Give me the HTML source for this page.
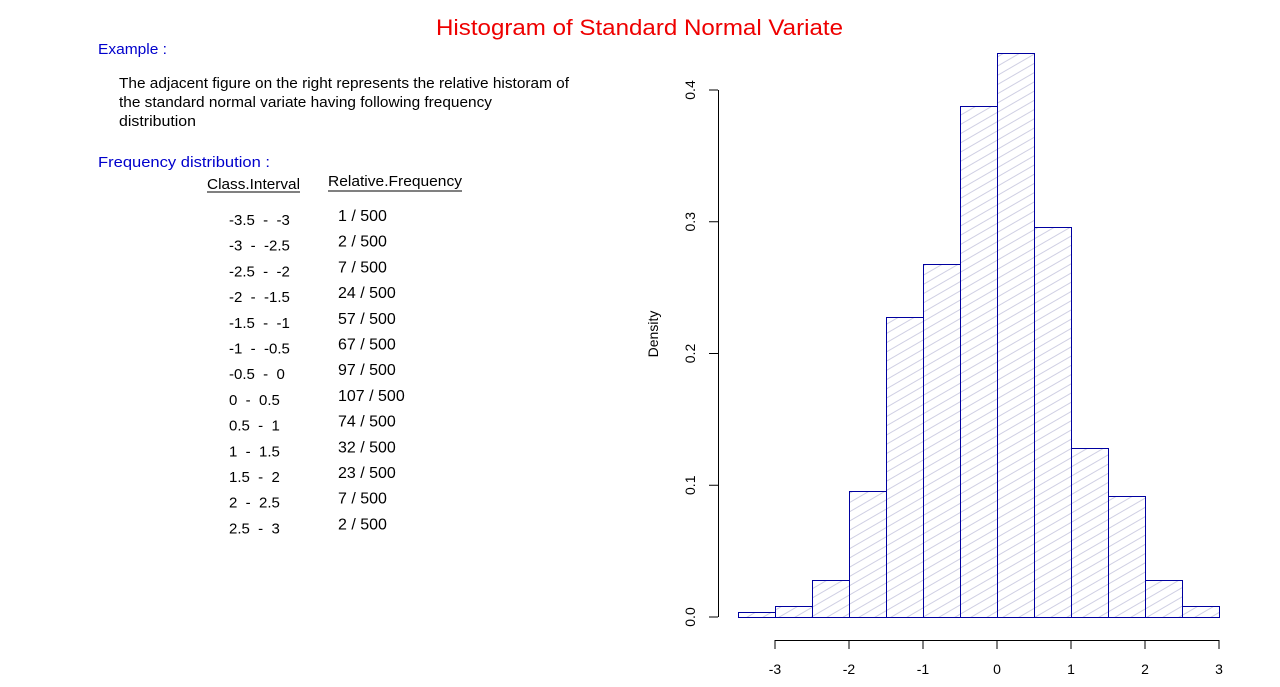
<!DOCTYPE html>
<html><head><meta charset="utf-8"><style>
body{margin:0;background:#fff;width:1280px;height:682px;overflow:hidden}
svg{font-family:"Liberation Sans",Arial,sans-serif}
#table text{white-space:pre}
</style></head><body>
<svg id="s" width="1280" height="682">
<defs>
<pattern id="hatch" patternUnits="userSpaceOnUse" width="14" height="8" patternTransform="rotate(-30)">
<line x1="0" y1="4" x2="14" y2="4" stroke="#cacae0" stroke-width="0.9"/>
</pattern>
</defs>
<text x="436" y="35" font-size="22" fill="#ee0000" textLength="407" lengthAdjust="spacingAndGlyphs">Histogram of Standard Normal Variate</text>
<text x="98" y="54" font-size="15" fill="#0000cc" textLength="69" lengthAdjust="spacingAndGlyphs">Example :</text>
<g font-size="15" fill="#000">
<text x="119" y="88" textLength="450" lengthAdjust="spacingAndGlyphs">The adjacent figure on the right represents the relative historam of</text>
<text x="119" y="107" textLength="373" lengthAdjust="spacingAndGlyphs">the standard normal variate having following frequency</text>
<text x="119" y="126" textLength="77" lengthAdjust="spacingAndGlyphs">distribution</text>
</g>
<text x="98" y="167" font-size="15" fill="#0000cc" textLength="172" lengthAdjust="spacingAndGlyphs">Frequency distribution :</text>
<text x="207" y="189" font-size="15" textLength="93" lengthAdjust="spacingAndGlyphs">Class.Interval</text>
<line x1="207" y1="192" x2="300" y2="192" stroke="#000"/>
<text x="328" y="186" font-size="15" textLength="134" lengthAdjust="spacingAndGlyphs">Relative.Frequency</text>
<line x1="328" y1="191" x2="462" y2="191" stroke="#000"/>
<g id="table"></g>
<g id="plot"></g>
<text transform="translate(658,334) rotate(-90)" text-anchor="middle" font-size="14">Density</text>
</svg>
<script>
const intervals=["-3.5  -  -3","-3  -  -2.5","-2.5  -  -2","-2  -  -1.5","-1.5  -  -1","-1  -  -0.5","-0.5  -  0","0  -  0.5","0.5  -  1","1  -  1.5","1.5  -  2","2  -  2.5","2.5  -  3"];
const breaks=[-3.5,-3,-2.5,-2,-1.5,-1,-0.5,0,0.5,1,1.5,2,2.5,3];
const counts=[1,2,7,24,57,67,97,107,74,32,23,7,2];
const total=500;
const xTicks=[-3,-2,-1,0,1,2,3];
const yTicks=[0,0.1,0.2,0.3,0.4];
const NS="http://www.w3.org/2000/svg";
const X=v=>997+v*74, Y=v=>617-v*1317.5;
function mk(t,a,p){const e=document.createElementNS(NS,t);for(const k in a)e.setAttribute(k,a[k]);p.appendChild(e);return e;}
const tb=document.getElementById('table'),pl=document.getElementById('plot');
intervals.forEach((s,i)=>{
 const t=mk('text',{x:229,y:225+i*25.7,'font-size':15},tb);t.textContent=s;
 
 
 const f=mk('text',{x:338,y:221+i*25.7,'font-size':16},tb);f.textContent=counts[i]+' / '+total;
 
 
});
const w=breaks[1]-breaks[0];
counts.forEach((c,i)=>{
 const d=c/total/w;
 const x0=X(breaks[i]),x1=X(breaks[i+1]),y=Y(d);
 const r=mk('rect',{x:Math.round(x0)+0.5,y:Math.round(y)+0.5,width:Math.round(x1)-Math.round(x0),height:Math.round(Y(0))-Math.round(y),fill:'url(#hatch)',stroke:'#0000a0','stroke-width':1},pl);
 
 
});
const xa=mk('g',{},pl);


mk('line',{x1:X(xTicks[0]),y1:640.5,x2:X(xTicks[xTicks.length-1]),y2:640.5,stroke:'#000'},xa);
xTicks.forEach(v=>{mk('line',{x1:X(v),y1:640,x2:X(v),y2:649,stroke:'#000'},xa);
 const t=mk('text',{x:X(v),y:674,'text-anchor':'middle','font-size':14},xa);t.textContent=v;});
const ya=mk('g',{},pl);


mk('line',{x1:718.5,y1:Y(yTicks[0]),x2:718.5,y2:Y(yTicks[yTicks.length-1]),stroke:'#000'},ya);
yTicks.forEach(v=>{mk('line',{x1:709,y1:Y(v),x2:718,y2:Y(v),stroke:'#000'},ya);
 const t=mk('text',{transform:`translate(695,${Y(v)}) rotate(-90)`,'text-anchor':'middle','font-size':14},ya);t.textContent=v.toFixed(1);});
</script>
</body></html>
